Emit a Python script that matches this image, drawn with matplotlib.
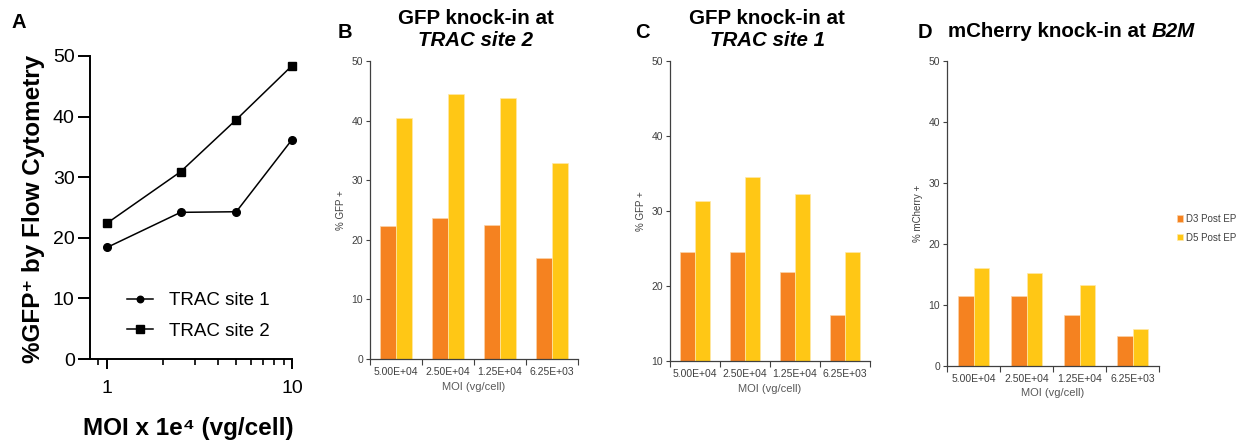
import matplotlib
matplotlib.use("Agg")
import matplotlib.pyplot as plt
import numpy as np

plt.rcParams['font.family'] = ['Liberation Sans', 'DejaVu Sans']

# パネルA: MOIと%GFP+
moi_a = [1, 2.5, 5, 10]
site1 = [18.4, 24.2, 24.3, 36.2]
site2 = [22.4, 30.9, 39.5, 48.4]

# パネルB-D: 棒グラフ
moi_labels = ['5.00E+04', '2.50E+04', '1.25E+04', '6.25E+03']
b_d3 = [22.3, 23.6, 22.4, 16.9]
b_d5 = [40.4, 44.5, 43.8, 32.9]
c_d3 = [24.5, 24.5, 21.9, 16.2]
c_d5 = [31.4, 34.6, 32.2, 24.5]
d_d3 = [11.4, 11.5, 8.3, 5.0]
d_d5 = [16.0, 15.3, 13.2, 6.0]
series_names = ['D3 Post EP', 'D5 Post EP']

ORANGE = '#F58220'
YELLOW = '#FFC715'
GREY = '#404040'

W, H = 1249, 442
fig = plt.figure(figsize=(W / 100, H / 100), dpi=100)


def box(x0, y0, x1, y1):
    # ピクセル座標 -> figure座標
    return [x0 / W, 1 - y1 / H, (x1 - x0) / W, (y1 - y0) / H]


def fx(x):
    return x / W


def fy(y):
    return 1 - y / H


def letter(x, y, s):
    fig.text(fx(x), fy(y), s, fontsize=14.5, fontweight='bold', va='baseline')


# ---- A ----
axA = fig.add_axes(box(90, 56, 292, 359))
axA.plot(moi_a, site1, '-o', color='black', lw=1.1, ms=5.5, clip_on=False, label='TRAC site 1')
axA.plot(moi_a, site2, '-s', color='black', lw=1.1, ms=6, clip_on=False, label='TRAC site 2')
axA.set_xscale('log')
axA.set_xlim(0.81, 10)
axA.set_ylim(0, 50)
axA.set_yticks([0, 10, 20, 30, 40, 50])
axA.set_xticks([1, 10])
axA.set_xticklabels(['1', '10'])
for s in ['top', 'right']:
    axA.spines[s].set_visible(False)
for s in ['left', 'bottom']:
    axA.spines[s].set_linewidth(1.4)
axA.tick_params(axis='y', labelsize=14, width=1.4, length=9, pad=2)
axA.tick_params(axis='x', which='major', labelsize=14, width=1.4, length=7, pad=8)
axA.tick_params(axis='x', which='minor', width=1.2, length=4.5)

fig.text(fx(34), fy(209), '%GFP\u207a by Flow Cytometry', rotation=90,
         ha='center', va='center', fontsize=17.5, fontweight='bold')
fig.text(fx(83), fy(435), 'MOI x 1e\u2074 (vg/cell)', ha='left', va='baseline',
         fontsize=17.5, fontweight='bold')

axA.legend(loc='upper left', bbox_to_anchor=(fx(127), fy(292)), bbox_transform=fig.transFigure,
           frameon=False, fontsize=13.5, handlelength=1.4, labelspacing=0.72, borderpad=0,
           handletextpad=0.85, borderaxespad=0, markerscale=0.85)
letter(12, 28, 'A')


# ---- B, C, D ----
def bar_panel(rect, d3, d5, ylim, ylabel):
    ax = fig.add_axes(rect)
    x = np.arange(len(moi_labels))
    ax.bar(x - 0.15, d3, 0.3, color=ORANGE, edgecolor='#FBD3A8', lw=0.5, label=series_names[0])
    ax.bar(x + 0.15, d5, 0.3, color=YELLOW, edgecolor='#FFE9A8', lw=0.5, label=series_names[1])
    ax.set_xlim(-0.5, len(moi_labels) - 0.5)
    ax.set_ylim(*ylim)
    ax.set_yticks(np.arange(ylim[0], ylim[1] + 1, 10))
    ax.set_xticks(x)
    ax.set_xticklabels(moi_labels)
    ax.set_xticks(np.arange(-0.5, len(moi_labels)), minor=True)
    ax.tick_params(axis='x', which='major', length=0, pad=6, labelsize=7.5, colors=GREY)
    ax.tick_params(axis='x', which='minor', length=4, width=0.8, color=GREY)
    ax.tick_params(axis='y', length=3, width=0.8, labelsize=7.5, colors=GREY, pad=2)
    for s in ['top', 'right']:
        ax.spines[s].set_visible(False)
    for s in ['left', 'bottom']:
        ax.spines[s].set_linewidth(0.9)
        ax.spines[s].set_color(GREY)
    ax.set_ylabel(ylabel, fontsize=7, color=GREY, labelpad=4)
    ax.set_xlabel('MOI (vg/cell)', fontsize=8, color='#595959', labelpad=3)
    return ax


axB = bar_panel(box(370, 61, 578, 359), b_d3, b_d5, (0, 50), '% GFP +')
axC = bar_panel(box(670, 61, 870, 361), c_d3, c_d5, (10, 50), '% GFP +')
axD = bar_panel(box(947, 61, 1159, 366), d_d3, d_d5, (0, 50), '% mCherry +')

for site, cx in [('TRAC site 2', 476), ('TRAC site 1', 767)]:
    fig.text(fx(cx), fy(24), 'GFP knock-in at', ha='center', va='baseline',
             fontsize=14.8, fontweight='bold')
    fig.text(fx(cx), fy(46), site, ha='center', va='baseline',
             fontsize=14.8, fontweight='bold', style='italic')

t1 = fig.text(fx(948), fy(37), 'mCherry knock-in at ', ha='left', va='baseline',
              fontsize=14.8, fontweight='bold')
axD.annotate('B2M', xy=(1, 0), xycoords=t1, xytext=(0, 0), textcoords='offset points',
             ha='left', va='bottom', fontsize=14.8, fontweight='bold', style='italic',
             annotation_clip=False)

axD.legend(loc='upper left', bbox_to_anchor=(fx(1177), fy(214)), bbox_transform=fig.transFigure,
           frameon=False, fontsize=7, handlelength=0.6, handleheight=0.6, handletextpad=0.3,
           labelspacing=0.9, borderpad=0, borderaxespad=0, labelcolor=GREY)

letter(338, 38, 'B')
letter(635, 38, 'C')
letter(918, 38, 'D')

fig.savefig('out.png', dpi=100)
